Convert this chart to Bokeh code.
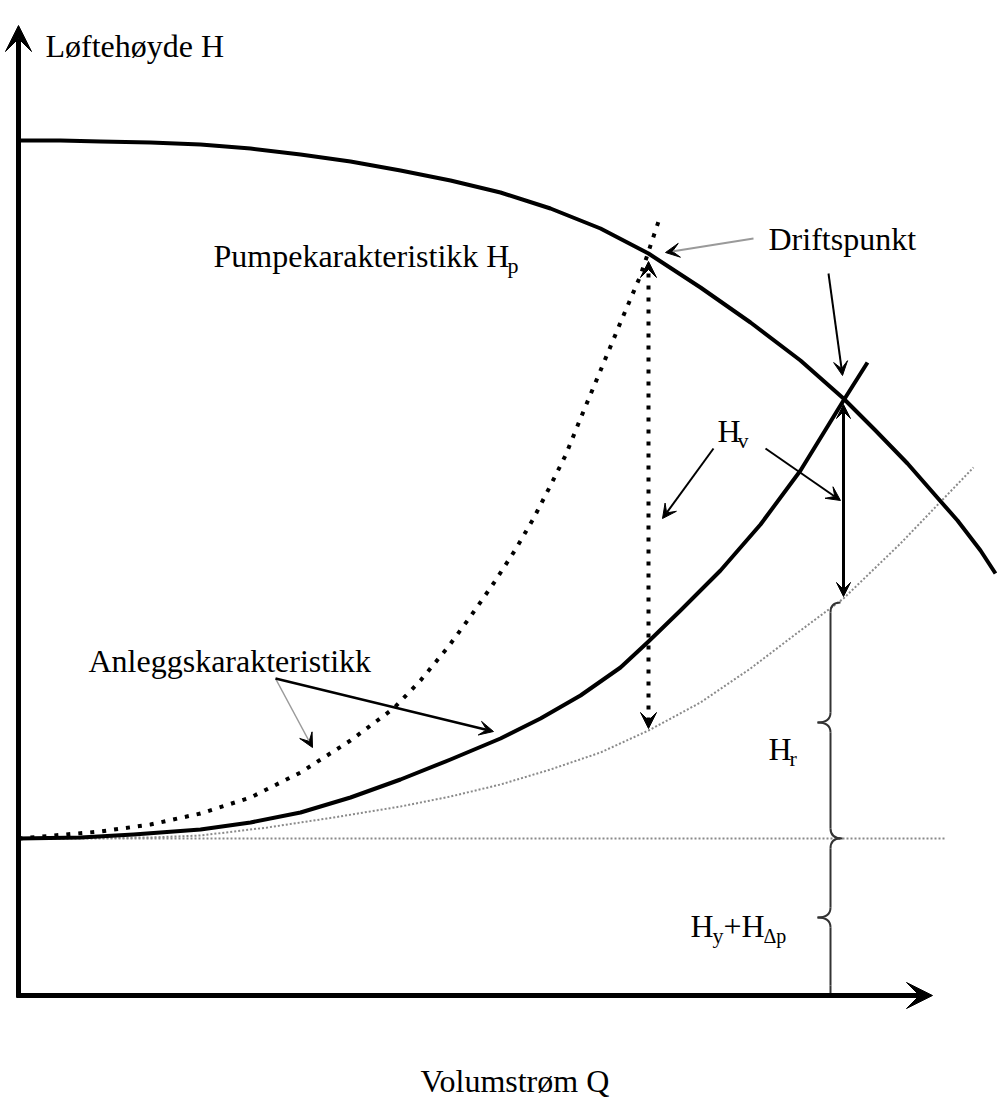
from bokeh.plotting import figure
from bokeh.models import Range1d, Arrow, VeeHead
from bokeh.core.properties import value
from bokeh.embed import file_html
from bokeh.resources import INLINE

# ---- data (Q = volume flow, H = head; arbitrary schematic units) ----
pump_q = [0, 42, 82, 132, 182, 232, 282, 332, 382, 432, 482, 532, 582, 630,
          682, 732, 782, 825, 857, 889, 917, 939, 962, 977]
pump_h = [855, 855, 854, 853, 851, 847, 841, 834, 825, 815, 803, 787, 767, 742,
          708, 673, 635, 597, 565, 532, 500, 475, 445, 422]

sys_q = [0, 62, 115, 182, 232, 282, 332, 382, 432, 482, 522, 562, 602, 630,
         662, 702, 742, 782, 825, 849]
sys_h = [157, 158, 161, 166, 173, 183, 198, 216, 236, 257, 277, 300, 328, 354,
         385, 425, 471, 525, 595, 633]

sys2_q = [0, 82, 132, 182, 232, 282, 332, 375, 402, 430, 452, 475, 497, 515,
          532, 547, 562, 582, 602, 622, 642]
sys2_h = [157, 164, 171, 182, 198, 223, 255, 287, 315, 349, 379, 412, 446, 477,
          510, 540, 577, 625, 673, 720, 780]

loss_q = [0, 132, 182, 249, 315, 382, 432, 482, 532, 582, 630, 682, 732, 782,
          825, 882, 955]
loss_h = [157, 158, 160, 168, 178, 189, 199, 211, 226, 243, 265, 293, 327, 365,
          397, 452, 528]

static_h = 157          # H_y + H_dp level
static_q = [0, 927]
op_q, op_h = 825, 597   # Driftspunkt
op2_q, op2_h = 630, 742 # throttled operating point
op_loss_h = 397         # loss-curve value at op_q
op2_loss_h = 265        # loss-curve value at op2_q
q_axis_max, h_axis_max = 914, 970

FONT = "Liberation Serif"

p = figure(width=1006, height=1099, output_backend="svg", toolbar_location=None,
           x_range=Range1d(-18, 988), y_range=Range1d(-104, 995),
           x_axis_type=None, y_axis_type=None, min_border=0)
p.grid.visible = False
p.outline_line_color = None
p.background_fill_color = "white"
p.border_fill_color = "white"

# reference lines/curves
p.line(static_q, [static_h, static_h], line_color="#8a8a8a", line_width=2, line_dash="2 2")
p.line(loss_q, loss_h, line_color="#8a8a8a", line_width=2, line_dash="2 2")
p.line(sys2_q, sys2_h, line_color="black", line_width=4, line_dash="4 8")
p.line(sys_q, sys_h, line_color="black", line_width=4, line_join="round")
p.line(pump_q, pump_h, line_color="black", line_width=4, line_join="round")

def head(size=16):
    return VeeHead(size=size, fill_color="black", line_color="black", line_width=1)

# axes
p.add_layout(Arrow(x_start=0, y_start=-2, x_end=0, y_end=h_axis_max, line_width=5,
                   line_color="black", end=head(26), start=None))
p.add_layout(Arrow(x_start=-2, y_start=0, x_end=q_axis_max, y_end=0, line_width=5,
                   line_color="black", end=head(26), start=None))

# vertical double arrows
p.add_layout(Arrow(x_start=op2_q, y_start=op2_h - 8, x_end=op2_q, y_end=op2_loss_h + 2,
                   line_width=4, line_dash="4 8", line_color="black",
                   start=head(16), end=head(16)))
p.add_layout(Arrow(x_start=op_q, y_start=op_h - 6, x_end=op_q, y_end=op_loss_h + 2,
                   line_width=3, line_color="black", start=head(14), end=head(14)))

# pointer arrows
p.add_layout(Arrow(x_start=735, y_start=757, x_end=647, y_end=743, line_width=2,
                   line_color="#9a9a9a", end=head(14), start=None))
p.add_layout(Arrow(x_start=810, y_start=722, x_end=824, y_end=620, line_width=2,
                   line_color="black", end=head(14), start=None))
p.add_layout(Arrow(x_start=695, y_start=547, x_end=644, y_end=477, line_width=2,
                   line_color="black", end=head(14), start=None))
p.add_layout(Arrow(x_start=747, y_start=547, x_end=822, y_end=495, line_width=2,
                   line_color="black", end=head(14), start=None))
p.add_layout(Arrow(x_start=257, y_start=317, x_end=294, y_end=248, line_width=1.5,
                   line_color="#9a9a9a", end=head(14), start=None))
p.add_layout(Arrow(x_start=257, y_start=317, x_end=475, y_end=264, line_width=2.5,
                   line_color="black", end=head(14), start=None))

# braces
QB = 812
BR = dict(line_color="#333333", line_width=2)
def brace(top, bot, mid, top_dir, bot_dir):
    r = 10
    p.quadratic(x0=[QB + top_dir * 10], y0=[top], x1=[QB], y1=[top - r], cx=[QB], cy=[top], **BR)
    p.segment(x0=[QB], y0=[top - r], x1=[QB], y1=[mid + r], **BR)
    p.quadratic(x0=[QB], y0=[mid + r], x1=[QB - 13], y1=[mid], cx=[QB], cy=[mid], **BR)
    p.quadratic(x0=[QB - 13], y0=[mid], x1=[QB], y1=[mid - r], cx=[QB], cy=[mid], **BR)
    p.segment(x0=[QB], y0=[mid - r], x1=[QB], y1=[bot + r], **BR)
    p.quadratic(x0=[QB], y0=[bot + r], x1=[QB + bot_dir * 12], y1=[bot], cx=[QB], cy=[bot], **BR)

brace(op_loss_h - 4, static_h, 273, 1, 1)
brace(static_h, 0, 78, 1, 0)

def label(q, h, txt, size="32px"):
    p.text(x=[q], y=[h], text=[txt], text_font=value(FONT), text_font_size=value(size),
           text_baseline="alphabetic", text_align="left", text_color="black")

label(27, 950, "Løftehøyde H")
label(195, 740, "Pumpekarakteristikk H")
label(489, 730, "p", "22px")
label(750, 757, "Driftspunkt")
label(699, 565, "H")
label(719, 555, "v", "22px")
label(70, 335, "Anleggskarakteristikk")
label(750, 247, "H")
label(771, 237, "r", "22px")
label(672, 70, "H")
label(694, 60, "y", "22px")
label(705, 70, "+H")
label(745, 60, "Δp", "20px")
label(402, -85, "Volumstrøm Q")

open("out.html", "w").write(file_html(p, INLINE))
